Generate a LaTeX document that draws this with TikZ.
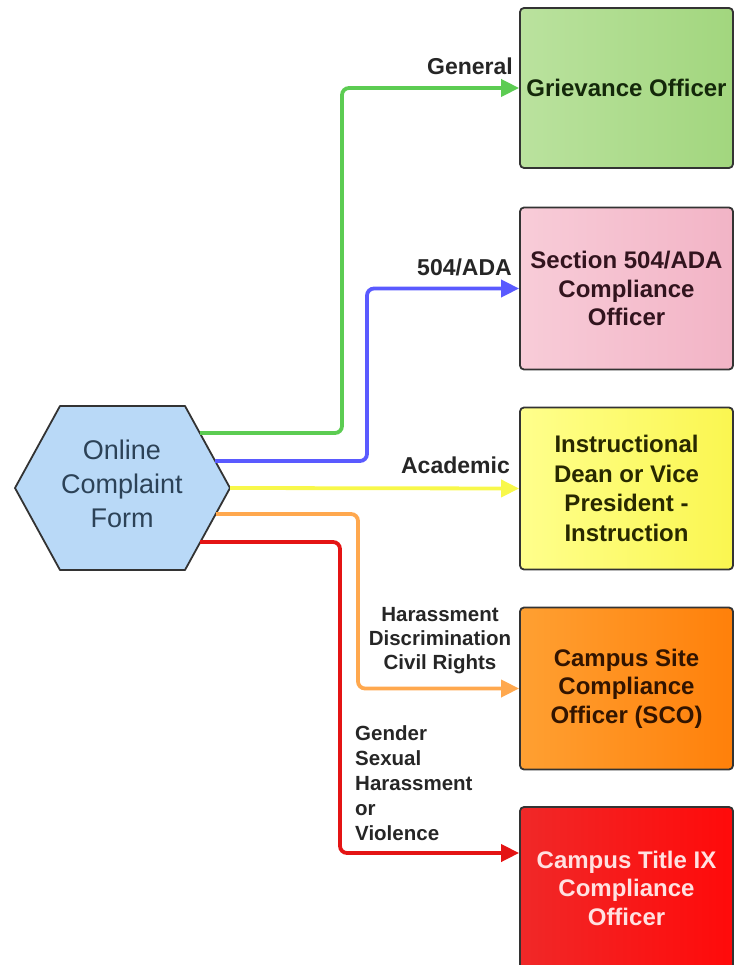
\documentclass[tikz,border=0pt]{standalone}
\usepackage{fontspec}
\setmainfont{Liberation Sans}
\usetikzlibrary{arrows.meta}
\definecolor{hexfill}{HTML}{B9D9F7}
\definecolor{hextext}{HTML}{2C4257}
\definecolor{edgegray}{HTML}{333333}
\definecolor{cgreen}{HTML}{5CCC52}
\definecolor{cblue}{HTML}{5A5AFF}
\definecolor{cyellow}{HTML}{F8F84A}
\definecolor{corange}{HTML}{FFA84E}
\definecolor{cred}{HTML}{E41414}
\tikzset{
  office/.style={draw=edgegray, line width=1.8pt, rounded corners=4pt,
    minimum width=213pt, minimum height=162pt, align=center, inner sep=2pt,
    font=\bfseries\fontsize{24}{28.5}\selectfont},
  conn/.style={line width=3.8pt, rounded corners=7pt,
    -{Triangle[length=18pt,width=17pt]}},
  elabel/.style={font=\bfseries\fontsize{23}{25}\selectfont, text=black!85, inner sep=0pt},
}
\begin{document}
\begin{tikzpicture}[x=1pt,y=-1pt]
\useasboundingbox (0,0) rectangle (735,965);
% hexagon
\fill[hexfill] (15,488) -- (60,406) -- (185,406) -- (230,488) -- (185,570) -- (60,570) -- cycle;
\draw[edgegray, line width=1.8pt, line join=round] (15,488) -- (60,406) -- (185,406) -- (230,488) -- (185,570) -- (60,570) -- cycle;
\node[align=center, text=hextext, font=\fontsize{27}{34}\selectfont] (form) at (122,484) {Online\\Complaint\\Form};
\coordinate (s1) at (200,433);
\coordinate (s2) at (215,461);
\coordinate (s3) at (230,488);
\coordinate (s4) at (216,514);
\coordinate (s5) at (200,542);
% boxes
\node[office, minimum height=160pt,
  left color={rgb,255:red,186;green,226;blue,158}, right color={rgb,255:red,162;green,214;blue,126}, text={rgb,255:red,20;green,40;blue,10}] (grv) at (626.5,88) {Grievance Officer};
\node[office, left color={rgb,255:red,248;green,204;blue,216}, right color={rgb,255:red,242;green,180;blue,198}, text={rgb,255:red,50;green,20;blue,30}] (ada) at (626.5,288.5) {Section 504/ADA\\Compliance\\Officer};
\node[office, left color={rgb,255:red,255;green,255;blue,140}, right color={rgb,255:red,250;green,246;blue,80}, text={rgb,255:red,40;green,40;blue,0},
  font=\bfseries\fontsize{24}{29.5}\selectfont] (dean) at (626.5,488.5) {Instructional\\Dean or Vice\\President -\\Instruction};
\node[office, left color={rgb,255:red,255;green,160;blue,50}, right color={rgb,255:red,255;green,128;blue,10}, text={rgb,255:red,50;green,20;blue,0}] (sco) at (626.5,688.5) {Campus Site\\Compliance\\Officer (SCO)};
\node[office, left color={rgb,255:red,240;green,40;blue,40}, right color={rgb,255:red,255;green,10;blue,10}, text={rgb,255:red,255;green,225;blue,225}] (ttl) at (626.5,888) {Campus Title IX\\Compliance\\Officer};
% connectors
\draw[conn, cgreen] (s1) -- (342,433) |- (grv.west);
\draw[conn, cblue] (s2) -- (367,461) |- (ada.west);
\draw[conn, cyellow] (s3) -- (dean.west);
\draw[conn, corange] (s4) -- (358,514) |- (sco.west);
\draw[conn, cred] (s5) -- (340,542) |- ([yshift=35pt]ttl.west);
% labels
\node[elabel, anchor=east] (lgen) at (513,66) {General};
\node[elabel, anchor=east] (lada) at (512,267) {504/ADA};
\node[elabel, anchor=east] (lacad) at (510,465) {Academic};
\node[elabel, align=center, font=\bfseries\fontsize{20.5}{24}\selectfont] (lhar) at (440,641) {Harassment\\Discrimination\\Civil Rights};
\node[elabel, align=left, anchor=west, font=\bfseries\fontsize{20.5}{25}\selectfont] (lgender) at (355,783) {Gender\\Sexual\\Harassment\\or\\Violence};
\end{tikzpicture}
\end{document}
